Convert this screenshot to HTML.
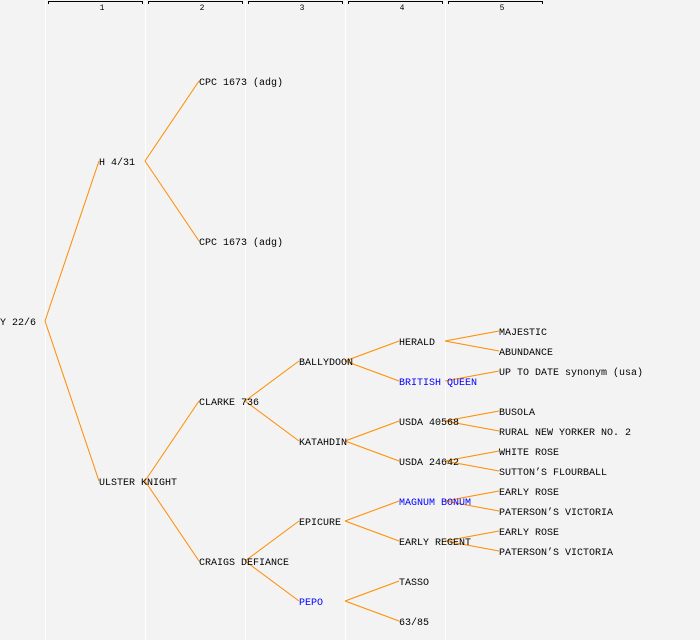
<!DOCTYPE html>
<html><head><meta charset="utf-8"><style>
html,body{margin:0;padding:0;background:#f3f3f3;}
svg{display:block;}
text{font-family:"Liberation Mono","DejaVu Sans Mono",monospace;font-size:10px;fill:#000;}
.b{fill:#0000ff;}
.h{font-size:8px;}
</style></head><body>
<svg width="700" height="640" viewBox="0 0 700 640">
<rect width="700" height="640" fill="#f3f3f3"/>
<g stroke="#ffffff" stroke-width="1">
<line x1="45.5" y1="0" x2="45.5" y2="640"/>
<line x1="145.5" y1="0" x2="145.5" y2="640"/>
<line x1="245.5" y1="0" x2="245.5" y2="640"/>
<line x1="345.5" y1="0" x2="345.5" y2="640"/>
<line x1="445.5" y1="0" x2="445.5" y2="640"/>
</g>
<g stroke="#000" stroke-width="1" fill="none">
<path d="M48.5 4V1.5H142.5V4"/>
<path d="M148.5 4V1.5H242.5V4"/>
<path d="M248.5 4V1.5H342.5V4"/>
<path d="M348.5 4V1.5H442.5V4"/>
<path d="M448.5 4V1.5H542.5V4"/>
</g>
<g class="h" text-anchor="middle">
<text class="h" x="102" y="10">1</text>
<text class="h" x="202" y="10">2</text>
<text class="h" x="302" y="10">3</text>
<text class="h" x="402" y="10">4</text>
<text class="h" x="502" y="10">5</text>
</g>
<g stroke="#ff8c00" stroke-width="1" fill="none">
<path d="M45 321L99 161M45 321L99 481"/>
<path d="M145 161L199 81M145 161L199 241"/>
<path d="M145 481L199 401M145 481L199 561"/>
<path d="M245 401L299 361M245 401L299 441"/>
<path d="M245 561L299 521M245 561L299 601"/>
<path d="M345 361L399 341M345 361L399 381"/>
<path d="M345 441L399 421M345 441L399 461"/>
<path d="M345 521L399 501M345 521L399 541"/>
<path d="M345 601L399 581M345 601L399 621"/>
<path d="M445 341L499 331M445 341L499 351"/>
<path d="M445 381L499 371"/>
<path d="M445 421L499 411M445 421L499 431"/>
<path d="M445 461L499 451M445 461L499 471"/>
<path d="M445 501L499 491M445 501L499 511"/>
<path d="M445 541L499 531M445 541L499 551"/>
</g>
<g transform="translate(0,-1)">
<text x="0" y="326">Y 22/6</text>
<text x="99" y="166">H 4/31</text>
<text x="199" y="86">CPC 1673 (adg)</text>
<text x="199" y="246">CPC 1673 (adg)</text>
<text x="99" y="486">ULSTER KNIGHT</text>
<text x="199" y="406">CLARKE 736</text>
<text x="199" y="566">CRAIGS DEFIANCE</text>
<text x="299" y="366">BALLYDOON</text>
<text x="299" y="446">KATAHDIN</text>
<text x="299" y="526">EPICURE</text>
<text class="b" x="299" y="606">PEPO</text>
<text x="399" y="346">HERALD</text>
<text class="b" x="399" y="386">BRITISH QUEEN</text>
<text x="399" y="426">USDA 40568</text>
<text x="399" y="466">USDA 24642</text>
<text class="b" x="399" y="506">MAGNUM BONUM</text>
<text x="399" y="546">EARLY REGENT</text>
<text x="399" y="586">TASSO</text>
<text x="399" y="626">63/85</text>
<text x="499" y="336">MAJESTIC</text>
<text x="499" y="356">ABUNDANCE</text>
<text x="499" y="376">UP TO DATE synonym (usa)</text>
<text x="499" y="416">BUSOLA</text>
<text x="499" y="436">RURAL NEW YORKER NO. 2</text>
<text x="499" y="456">WHITE ROSE</text>
<text x="499" y="476">SUTTON’S FLOURBALL</text>
<text x="499" y="496">EARLY ROSE</text>
<text x="499" y="516">PATERSON’S VICTORIA</text>
<text x="499" y="536">EARLY ROSE</text>
<text x="499" y="556">PATERSON’S VICTORIA</text>
</g>
</svg>
</body></html>
